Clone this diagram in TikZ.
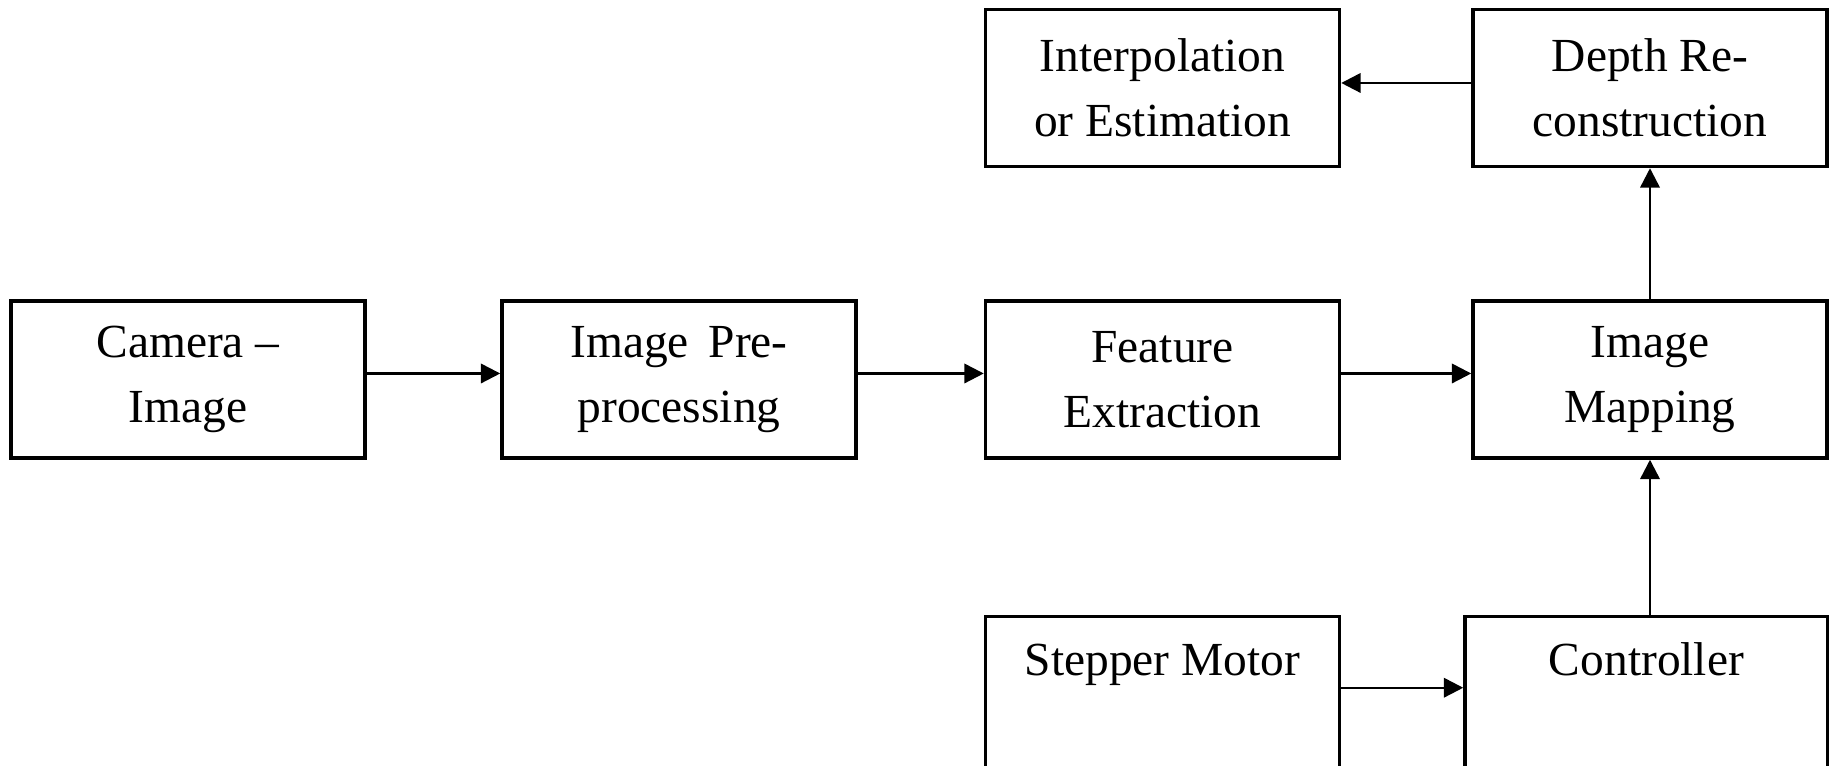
\documentclass[tikz,border=0pt]{standalone}
\usepackage{fontspec}
\setmainfont{Liberation Serif}
\usepackage{tikz}
\usetikzlibrary{arrows.meta, positioning}
\tikzset{>={Triangle[length=5.5pt,width=5.5pt]}}

\begin{document}
\begin{tikzpicture}[
        block/.style={draw, line width=1pt, minimum width=3.54cm, minimum height=1.57cm,
            align=center, font=\fontsize{13.5}{18.5}\selectfont},
        lowblock/.style={draw, line width=1pt, minimum width=3.54cm, anchor=north,
            inner ysep=0.17cm, text height=0.42cm, text depth=2.2cm,
            font=\fontsize{13.5}{18.5}\selectfont},
        flow/.style={->, line width=0.7pt}]
            \useasboundingbox (0,0) rectangle (18.29,7.66);
            % middle row
            \node[block] (cam) at (1.88,3.865) {Camera --\\Image};
            \node[block] (pre) at (6.79,3.865) {Image\, Pre-\\processing};
            \node[block] (feat) at (11.625,3.865) {Feature\\Extraction};
            \node[block] (map) at (16.50,3.865) {Image\\Mapping};
            % top row
            \node[block] (interp) at (11.625,6.78) {Interpolation\\or Estimation};
            \node[block] (depth) at (16.50,6.78) {Depth Re-\\construction};
            % bottom row, cut off by the page
            \node[lowblock] (stepper) at (11.625,1.51) {Stepper Motor};
            \node[lowblock, minimum width=3.63cm] (ctrl) at (16.465,1.51) {Controller};
            \draw[flow] ([yshift=0.6mm]cam.east) -- ([yshift=0.6mm]pre.west);
            \draw[flow] ([yshift=0.6mm]pre.east) -- ([yshift=0.6mm]feat.west);
            \draw[flow] ([yshift=0.6mm]feat.east) -- ([yshift=0.6mm]map.west);
            \draw[flow] (map) -- (depth);
            \draw[flow] ([yshift=0.5mm]depth.west) -- ([yshift=0.5mm]interp.east);
            \draw[flow] (map.south |- ctrl.north) -- (map.south);
            \draw[flow] ([yshift=-1.2mm]stepper.base east) -- ([yshift=-1.2mm]ctrl.base west);
        \end{tikzpicture}
\end{document}
